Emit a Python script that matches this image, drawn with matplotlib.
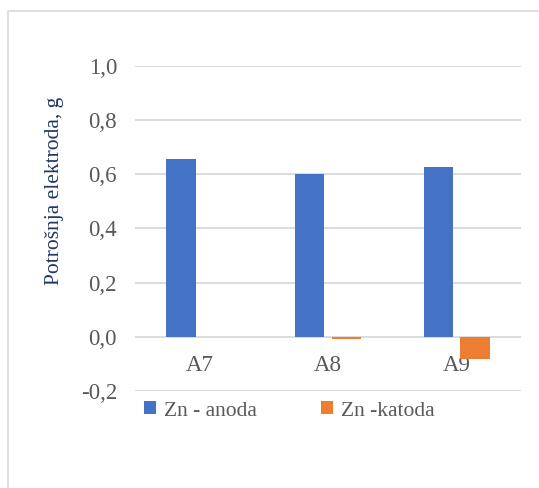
import matplotlib
matplotlib.use("Agg")
import matplotlib.pyplot as plt
from matplotlib.patches import Rectangle, Patch
from matplotlib.ticker import FuncFormatter, FixedLocator
import numpy as np

categories = ["A7", "A8", "A9"]
anoda = [0.656, 0.600, 0.627]
katoda = [0.0, -0.006, -0.082]
series_names = ["Zn - anoda", "Zn -katoda"]
yticks = [-0.2, 0.0, 0.2, 0.4, 0.6, 0.8, 1.0]

blue = "#4472C4"
orange = "#ED7D31"
grid_c = "#D9D9D9"
tick_c = "#595959"
label_c = "#203864"
font = "Liberation Serif"

W, H = 539, 488
fig = plt.figure(figsize=(W / 100, H / 100), dpi=100)
fig.patch.set_facecolor("white")

# outer chart border
fig.patches.append(Rectangle((7.5 / W, -0.1), 1.2, 1 - 10.5 / H + 0.1,
                             transform=fig.transFigure, fill=False,
                             edgecolor=grid_c, linewidth=1.2))

left, right = 135 / W, 521 / W
bottom, top = 1 - 391.3 / H, 1 - 65.7 / H
ax = fig.add_axes([left, bottom, right - left, top - bottom])

x = np.arange(len(categories))
bw = 0.227
off = 0.142
ax.bar(x - off, anoda, bw, color=blue, label=series_names[0], zorder=3)
ax.bar(x + off, katoda, bw, color=orange, label=series_names[1], zorder=3)

ax.set_xlim(-0.5, len(categories) - 0.5)
ax.set_ylim(-0.2, 1.0)
ax.yaxis.set_major_locator(FixedLocator(yticks))
ax.yaxis.set_major_formatter(FuncFormatter(lambda v, p: f"{v:.1f}".replace(".", ",").replace("-0,0", "0,0")))
ax.set_xticks(x)
ax.set_xticklabels(categories)

ax.grid(axis="y", color=grid_c, linewidth=1.3, zorder=0)
ax.spines["bottom"].set_position(("data", 0))
for s in ax.spines.values():
    s.set_visible(False)
ax.tick_params(axis="both", length=0, colors=tick_c, labelsize=16.5)
ax.tick_params(axis="y", pad=13)
ax.tick_params(axis="x", pad=13)
for lbl in ax.get_xticklabels() + ax.get_yticklabels():
    lbl.set_fontfamily(font)

fig.text(55 / W, 1 - 191 / H, "Potrošnja elektroda, g", rotation=90,
         ha="center", va="center", fontsize=15.5, color=label_c, family=font)

handles = [Patch(facecolor=blue), Patch(facecolor=orange)]
leg = fig.legend(handles, series_names, loc="center left",
                 bbox_to_anchor=(125 / W, 1 - 411 / H), ncol=2, frameon=False,
                 handlelength=0.55, handleheight=0.55, handletextpad=0.35,
                 columnspacing=3.0,
                 prop={"family": font, "size": 15.5})
for t in leg.get_texts():
    t.set_color(tick_c)

fig.savefig("out.png", dpi=100, facecolor="white")
